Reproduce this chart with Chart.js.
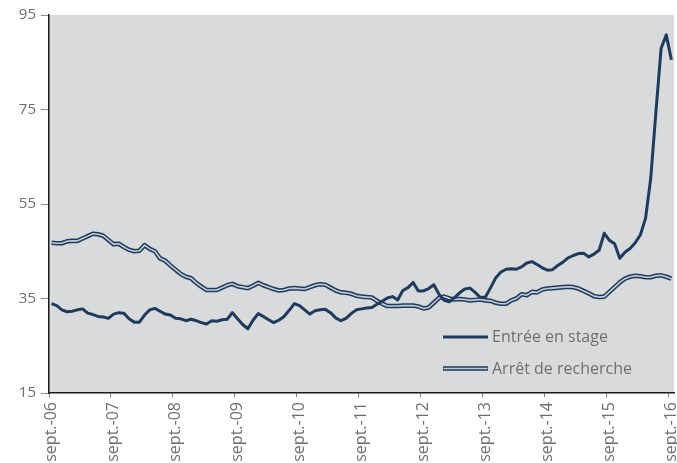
<!DOCTYPE html>
<html><head><meta charset="utf-8">
<script src="https://cdn.jsdelivr.net/npm/chart.js@4/dist/chart.umd.min.js"></script>
<style>html,body{margin:0;padding:0;background:#fff}canvas{display:block}</style>
</head><body>
<canvas id="c" width="677" height="463"></canvas>
<script>
// Monthly series, sept. 2006 -> sept. 2016 (121 months)
const monthNames = ['janv.','févr.','mars','avr.','mai','juin','juil.','août','sept.','oct.','nov.','déc.'];
const tickLabels = ['sept.-06','sept.-07','sept.-08','sept.-09','sept.-10','sept.-11','sept.-12','sept.-13','sept.-14','sept.-15','sept.-16'];
const yTicks = [15, 35, 55, 75, 95];

const entreeEnStage = [
  33.9,33.5,32.6,32.2,32.3,32.6,32.8,31.9,31.6,31.2,
  31.1,30.8,31.7,32.0,31.9,30.7,30.0,30.0,31.5,32.6,
  32.9,32.3,31.7,31.5,30.8,30.7,30.3,30.6,30.3,29.9,
  29.6,30.3,30.2,30.5,30.6,32.0,30.7,29.5,28.6,30.4,
  31.8,31.2,30.5,29.9,30.4,31.2,32.5,33.9,33.5,32.6,
  31.7,32.4,32.6,32.7,32.0,30.9,30.3,30.8,31.8,32.6,
  32.8,33.0,33.1,33.8,34.4,35.1,35.4,34.7,36.7,37.3,
  38.4,36.6,36.6,37.1,37.9,35.9,34.6,34.3,35.2,36.2,
  37.0,37.2,36.3,35.2,35.3,37.3,39.4,40.6,41.2,41.3,
  41.2,41.7,42.5,42.8,42.2,41.5,41.0,41.1,42.0,42.7,
  43.6,44.1,44.5,44.6,43.8,44.4,45.2,48.8,47.3,46.6,
  43.5,44.8,45.6,46.8,48.5,52.0,60.5,74.5,87.9,90.8,
  85.5
];
const arretDeRecherche = [
  46.8,46.7,46.7,47.1,47.2,47.2,47.7,48.2,48.7,48.6,
  48.3,47.4,46.5,46.6,45.9,45.3,45.0,45.1,46.3,45.5,
  45.0,43.5,43.0,42.0,41.1,40.2,39.6,39.3,38.3,37.5,
  36.8,36.8,36.8,37.3,37.8,38.1,37.6,37.4,37.2,37.7,
  38.3,37.8,37.4,37.0,36.7,36.8,37.1,37.2,37.1,37.0,
  37.4,37.8,38.0,37.9,37.3,36.7,36.3,36.2,36.0,35.6,
  35.4,35.3,35.2,34.5,33.9,33.4,33.4,33.4,33.5,33.5,
  33.5,33.3,32.9,33.1,34.1,35.1,35.4,35.0,34.8,34.9,
  34.8,34.6,34.7,34.8,34.6,34.5,34.1,33.9,33.9,34.6,
  35.0,35.9,35.7,36.4,36.3,36.9,37.1,37.2,37.3,37.4,
  37.5,37.4,37.1,36.6,36.1,35.5,35.3,35.4,36.4,37.4,
  38.4,39.2,39.6,39.8,39.7,39.5,39.5,39.8,39.9,39.6,
  39.2
];
const seriesNames = ['Entrée en stage', 'Arrêt de recherche'];

const categories = entreeEnStage.map((_, i) => {
  const m = (8 + i) % 12;
  const y = 6 + Math.floor((8 + i) / 12);
  return monthNames[m] + '-' + String(y).padStart(2, '0');
});

const NAVY = '#1f3b5c';
const INNER = '#c3cbd6';
const TEXT = '#6d6e71';
const FONT = '"Open Sans", "Noto Sans", sans-serif';

const bgPlugin = {
  id: 'plotBg',
  beforeDraw(chart) {
    const {ctx, chartArea: a} = chart;
    ctx.save();
    ctx.fillStyle = '#d9dadc';
    ctx.fillRect(a.left, a.top, a.right - a.left, a.bottom - a.top);
    ctx.restore();
  }
};

const legendPlugin = {
  id: 'innerLegend',
  afterDatasetsDraw(chart) {
    const {ctx, chartArea: a} = chart;
    const x0 = a.right - 231, x1 = a.right - 186;
    const ys = [a.bottom - 56, a.bottom - 24.5];
    ctx.save();
    ctx.lineCap = 'butt';
    // Entrée en stage
    ctx.strokeStyle = NAVY; ctx.lineWidth = 3;
    ctx.beginPath(); ctx.moveTo(x0, ys[0]); ctx.lineTo(x1, ys[0]); ctx.stroke();
    // Arrêt de recherche (double line)
    ctx.strokeStyle = NAVY; ctx.lineWidth = 4.5;
    ctx.beginPath(); ctx.moveTo(x0, ys[1]); ctx.lineTo(x1, ys[1]); ctx.stroke();
    ctx.strokeStyle = INNER; ctx.lineWidth = 1.6;
    ctx.beginPath(); ctx.moveTo(x0 + 0.5, ys[1]); ctx.lineTo(x1 - 0.5, ys[1]); ctx.stroke();
    ctx.fillStyle = TEXT;
    ctx.font = '16px ' + FONT;
    ctx.textBaseline = 'alphabetic';
    ctx.textAlign = 'left';
    ctx.fillText(seriesNames[0], x1 + 4, ys[0] + 5.4);
    ctx.fillText(seriesNames[1], x1 + 4, ys[1] + 5.8);
    ctx.restore();
  }
};

new Chart(document.getElementById('c'), {
  type: 'line',
  data: {
    labels: categories,
    datasets: [
      { label: seriesNames[0], data: entreeEnStage, borderColor: NAVY, borderWidth: 3,
        pointRadius: 0, tension: 0, fill: false, borderJoinStyle: 'round' },
      { label: seriesNames[1] + ' (inner)', data: arretDeRecherche, borderColor: INNER, borderWidth: 1.6,
        pointRadius: 0, tension: 0, fill: false, borderJoinStyle: 'round' },
      { label: seriesNames[1], data: arretDeRecherche, borderColor: NAVY, borderWidth: 4.6,
        pointRadius: 0, tension: 0, fill: false, borderJoinStyle: 'round' }
    ]
  },
  options: {
    responsive: false,
    animation: false,
    devicePixelRatio: 1,
    layout: { padding: { top: 15, right: 3, left: 0, bottom: 0 } },
    plugins: { legend: { display: false }, tooltip: { enabled: false } },
    scales: {
      x: {
        type: 'category',
        offset: true,
        grid: {
          offset: true, drawOnChartArea: false, drawTicks: true, tickLength: 4,
          color: (c) => (c.index % 12 === 0 ? '#7f7f7f' : 'rgba(0,0,0,0)'), lineWidth: 1
        },
        border: { display: true, color: '#1a1a1a', width: 1.5 },
        ticks: {
          autoSkip: false, minRotation: 90, maxRotation: 90, padding: 5,
          color: TEXT, font: { family: FONT, size: 16 },
          callback: (v, i) => (i % 12 === 0 ? tickLabels[i / 12] : '')
        },
        afterFit(s) { s.height = 70; s.paddingLeft = 0; s.paddingRight = 0; }
      },
      y: {
        min: yTicks[0], max: yTicks[yTicks.length - 1],
        afterBuildTicks(s) { s.ticks = yTicks.map(v => ({ value: v })); },
        grid: { drawOnChartArea: false, drawTicks: true, tickLength: 8, color: '#8a8a8a', lineWidth: 1 },
        border: { display: true, color: '#1a1a1a', width: 1.5 },
        ticks: { padding: 5, color: TEXT, font: { family: FONT, size: 15 } },
        afterFit(s) { s.width = 49; s.paddingTop = 0; s.paddingBottom = 0; }
      }
    }
  },
  plugins: [bgPlugin, legendPlugin]
});
</script>
</body></html>
